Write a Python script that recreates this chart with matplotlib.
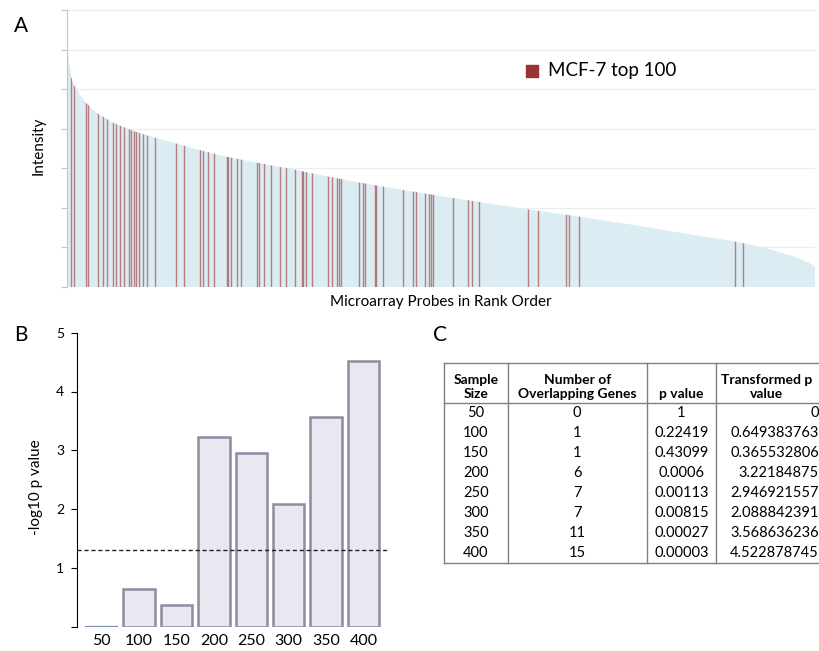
import matplotlib
matplotlib.use('Agg')
import matplotlib.pyplot as plt
from matplotlib.patches import Polygon

plt.rcParams['font.family'] = ['Lato', 'DejaVu Sans']

# panel A: intensity curve of ranked probes
n_probes = 22283
curve_rank = [0, 119, 209, 557, 903, 1379, 1975, 2622, 3238, 3962, 4757, 5669,
              6801, 7784, 8708, 10018, 11490, 13742, 15253, 16861, 18351,
              19900, 20844, 21627, 22134, 22283]
curve_int = [6.2, 5.31, 5.10, 4.66, 4.39, 4.15, 3.94, 3.77, 3.63, 3.46, 3.29, 3.14,
             2.96, 2.79, 2.64, 2.45, 2.25, 1.96, 1.78, 1.57, 1.36,
             1.15, 0.98, 0.78, 0.60, 0.51]
top_ranks = [119, 209, 557, 626, 909, 1087, 1192, 1379, 1460, 1579, 1698, 1856,
             1907, 1996, 2070, 2154, 2255, 2398, 2636, 3238, 3471, 3971, 4066,
             4215, 4385, 4757, 4811, 4900, 5055, 5183, 5675, 5726, 5869, 6077,
             6354, 6515, 6801, 6986, 7045, 7126, 7307, 7784, 7903, 8058, 8103,
             8148, 8699, 8803, 8886, 9166, 9220, 9414, 10018, 10307, 10382,
             10665, 10793, 10844, 10903, 11490, 11955, 12065, 12283, 13742,
             14022, 14857, 14940, 15253, 19900, 20129]

# panel B / C
sample_size = [50, 100, 150, 200, 250, 300, 350, 400]
overlap = [0, 1, 1, 6, 7, 7, 11, 15]
p_text = ['1', '0.22419', '0.43099', '0.0006', '0.00113', '0.00815', '0.00027', '0.00003']
tp_text = ['0', '0.649383763', '0.365532806', '3.22184875', '2.946921557',
           '2.088842391', '3.568636236', '4.522878745']
tp_value = [0, 0.649383763, 0.365532806, 3.22184875, 2.946921557,
            2.088842391, 3.568636236, 4.522878745]
threshold = 1.3

W, H = 820, 651
fig = plt.figure(figsize=(W / 100, H / 100), dpi=100)


def px_axes(x0, y0, x1, y1):
    return fig.add_axes([x0 / W, 1 - y1 / H, (x1 - x0) / W, (y1 - y0) / H])


# ---------------- A
axA = px_axes(67, 10, 815, 287)
axA.set_xlim(0, n_probes)
axA.set_ylim(0, 7)
axA.set_yticks(range(8))
axA.set_yticklabels([])
axA.set_xticks([])
axA.grid(axis='y', color='#ececec', lw=0.9)
axA.set_axisbelow(True)
for s in ['top', 'right', 'bottom']:
    axA.spines[s].set_visible(False)
axA.spines['left'].set_color('#c4c4c4')
axA.tick_params(axis='y', length=4, color='#c4c4c4')

poly = Polygon(list(zip([0] + curve_rank + [n_probes], [0] + curve_int + [0])),
               closed=True, facecolor='#dbedf3', edgecolor='none', zorder=2)
axA.add_patch(poly)
vl = axA.vlines(top_ranks, 0, 7, color='#a03a3a', alpha=0.62, lw=1.0, zorder=3)
vl.set_clip_path(poly)

axA.set_ylabel('Intensity', fontsize=11)
axA.yaxis.set_label_coords(-0.029, 0.51)
axA.set_xlabel('Microarray Probes in Rank Order', fontsize=11, labelpad=6)
axA.scatter([], [], marker='s', s=85, color='#993333', label='MCF-7 top 100')
axA.legend(loc='center left', bbox_to_anchor=(0.6, 0.783), frameon=False,
           fontsize=13.5, handlelength=0.7, handletextpad=0.5, borderpad=0)
fig.text(20.5 / W, 1 - 26 / H, 'A', fontsize=15, va='center', ha='center')

# ---------------- B
axB = px_axes(76.7, 332.7, 390, 626.7)
xs = list(range(len(sample_size)))
axB.bar(xs, tp_value, width=0.84, color='#e9e7f0', edgecolor='#8f8ba0', lw=1.8, zorder=2)
axB.plot([xs[0] - 0.42, xs[0] + 0.42], [0, 0], color='#7b8fb0', lw=1.6, zorder=3)
axB.axhline(threshold, color='#222222', lw=1.0, ls=(0, (3, 2)), zorder=4)
axB.set_xlim(-0.67, 7.71)
axB.set_ylim(0, 5)
axB.set_yticks(range(6))
axB.set_yticklabels([''] + [str(i) for i in range(1, 6)])
axB.set_xticks(xs)
axB.set_xticklabels([str(s) for s in sample_size])
axB.tick_params(axis='x', length=0, pad=5, labelsize=11.5)
axB.tick_params(axis='y', length=4, labelsize=10, direction='out', pad=5)
for s in ['top', 'right', 'bottom']:
    axB.spines[s].set_visible(False)
axB.set_ylabel('-log10 p value', fontsize=11)
axB.yaxis.set_label_coords(-0.107, 0.476)
fig.text(20.5 / W, 1 - 335 / H, 'B', fontsize=15, va='center', ha='center')

# ---------------- C (table)
fig.text(440 / W, 1 - 335 / H, 'C', fontsize=15, va='center', ha='center')
axC = px_axes(0, 0, W, H)
axC.set_xlim(0, W)
axC.set_ylim(H, 0)
axC.axis('off')
cols = [444.3, 507.7, 646.7, 716, 824]
top, head_bot, bot = 362.7, 403.3, 563.3
lc = '#7f7f7f'
axC.plot([cols[0], cols[-1]], [top, top], color=lc, lw=1)
axC.plot([cols[0], cols[-1]], [head_bot, head_bot], color=lc, lw=1)
axC.plot([cols[0], cols[-1]], [bot, bot], color=lc, lw=1)
for c in cols:
    axC.plot([c, c], [top, bot], color=lc, lw=1)

hdr = ['Sample\nSize', 'Number of\nOverlapping Genes', 'p value', 'Transformed p\nvalue']
for i, h in enumerate(hdr):
    cx = (cols[i] + cols[i + 1]) / 2 if i < 3 else (cols[3] + 818) / 2
    axC.text(cx, head_bot - 3, h, ha='center', va='bottom', fontsize=10,
             fontweight='bold', linespacing=1.2)

row_h = (bot - head_bot) / len(sample_size)
for r in range(len(sample_size)):
    cy = head_bot + row_h * (r + 0.5)
    axC.text((cols[0] + cols[1]) / 2, cy, str(sample_size[r]), ha='center', va='center', fontsize=10.5)
    axC.text((cols[1] + cols[2]) / 2, cy, str(overlap[r]), ha='center', va='center', fontsize=10.5)
    axC.text((cols[2] + cols[3]) / 2, cy, p_text[r], ha='center', va='center', fontsize=10.5)
    axC.text(819, cy, tp_text[r], ha='right', va='center', fontsize=10.5)

fig.savefig('out.png', dpi=100)
